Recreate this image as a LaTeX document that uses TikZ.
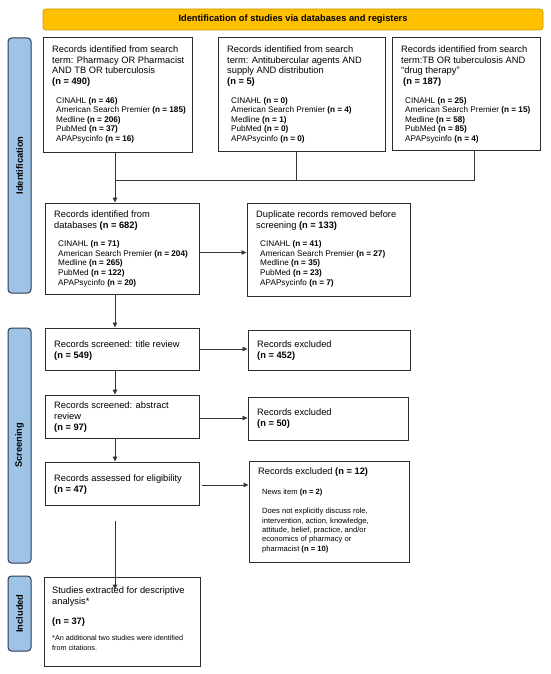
\documentclass[tikz,border=0pt]{standalone}
\usepackage{fontspec}
\setmainfont{Liberation Sans}
\usetikzlibrary{arrows.meta,calc}
\definecolor{bannerfill}{RGB}{255,192,0}
\definecolor{bannerdraw}{RGB}{205,155,0}
\definecolor{sidefill}{RGB}{157,195,230}
\definecolor{sidedraw}{RGB}{45,60,80}
\definecolor{boxdraw}{RGB}{45,45,45}
\definecolor{linecol}{RGB}{55,55,55}
\begin{document}
\begin{tikzpicture}[x=1pt,y=-1pt,
  box/.style={draw=boxdraw, line width=1pt, rectangle, inner sep=0pt},
  side/.style={draw=sidedraw, fill=sidefill, line width=1pt, rounded corners=3.5pt, inner sep=0pt},
  sidetext/.style={rotate=90, font=\fontsize{9.3}{11}\selectfont\bfseries, inner sep=0pt},
  hd/.style={inner sep=0pt, align=left, font=\fontsize{9.3}{10.7}\selectfont},
  ls/.style={inner sep=0pt, align=left, font=\fontsize{8.2}{9.6}\selectfont},
  sm/.style={inner sep=0pt, align=left, font=\fontsize{7.6}{9.4}\selectfont},
  fn/.style={inner sep=0pt, align=left, font=\fontsize{7.2}{10}\selectfont},
  arr/.style={draw=linecol, line width=0.8pt, -{Triangle[length=5pt,width=4.5pt]}},
  con/.style={draw=linecol, line width=0.8pt},
]
\useasboundingbox (0,0) rectangle (550,674);

% banner
\node[draw=bannerdraw, fill=bannerfill, line width=0.8pt, rounded corners=3pt,
      minimum width=500pt, minimum height=21pt, inner sep=0pt,
      font=\fontsize{9.3}{11}\selectfont\bfseries] (ban) at (293,19.5)
      {Identification of studies via databases and registers};

% side labels
\node[side, minimum width=23pt, minimum height=255pt] (sid) at (19.5,165.5) {};
\node[sidetext] at (sid.center) {Identification};
\node[side, minimum width=23pt, minimum height=235pt] (ssc) at (19.5,445.5) {};
\node[sidetext] at (ssc.center) {Screening};
\node[side, minimum width=23pt, minimum height=75pt] (sin) at (19.5,613.5) {};
\node[sidetext] at (sin.center) {Included};

% boxes
\node[box, minimum width=149pt, minimum height=114pt] (b1) at (117.5,95) {};
\node[box, minimum width=167pt, minimum height=113pt] (b2) at (301.5,94.5) {};
\node[box, minimum width=148pt, minimum height=112pt] (b3) at (466,94) {};
\node[box, minimum width=154pt, minimum height=91pt] (b4) at (122,248.5) {};
\node[box, minimum width=163pt, minimum height=93pt] (b5) at (328.5,249.5) {};
\node[box, minimum width=154pt, minimum height=42pt] (b6) at (122,349) {};
\node[box, minimum width=162pt, minimum height=40pt] (b7) at (329,350) {};
\node[box, minimum width=154pt, minimum height=43pt] (b8) at (122,416.5) {};
\node[box, minimum width=160pt, minimum height=43pt] (b9) at (328,418.5) {};
\node[box, minimum width=154pt, minimum height=43pt] (b10) at (122,483.5) {};
\node[box, minimum width=160pt, minimum height=101pt] (b11) at (329,511.5) {};
\node[box, minimum width=156pt, minimum height=89pt] (b12) at (122,621.5) {};

% texts box 1
\node[hd, anchor=north west] (t1) at (52,45.5) {Records identified from search\\term: Pharmacy OR Pharmacist\\AND TB OR tuberculosis\\\textbf{(n = 490)}};
\node[ls, anchor=north west] (l1) at (56,96.9) {CINAHL \textbf{(n = 46)}\\American Search Premier \textbf{(n = 185)}\\Medline \textbf{(n = 206)}\\PubMed \textbf{(n = 37)}\\APAPsycinfo \textbf{(n = 16)}};
% box 2
\node[hd, anchor=north west] (t2) at (227,45.5) {Records identified from search\\term: Antitubercular agents AND\\supply AND distribution\\\textbf{(n = 5)}};
\node[ls, anchor=north west] (l2) at (231,96.9) {CINAHL \textbf{(n = 0)}\\American Search Premier \textbf{(n = 4)}\\Medline \textbf{(n = 1)}\\PubMed \textbf{(n = 0)}\\APAPsycinfo \textbf{(n = 0)}};
% box 3
\node[hd, anchor=north west] (t3) at (401,45.5) {Records identified from search\\term:TB OR tuberculosis AND\\“drug therapy”\\\hspace*{2pt}\textbf{(n = 187)}};
\node[ls, anchor=north west] (l3) at (405,96.9) {CINAHL \textbf{(n = 25)}\\American Search Premier \textbf{(n = 15)}\\Medline \textbf{(n = 58)}\\PubMed \textbf{(n = 85)}\\APAPsycinfo \textbf{(n = 4)}};
% box 4
\node[hd, anchor=north west] (t4) at (54,210.5) {Records identified from\\databases \textbf{(n = 682)}};
\node[ls, anchor=north west] (l4) at (58,240.6) {CINAHL \textbf{(n = 71)}\\American Search Premier \textbf{(n = 204)}\\Medline \textbf{(n = 265)}\\PubMed \textbf{(n = 122)}\\APAPsycinfo \textbf{(n = 20)}};
% box 5
\node[hd, anchor=north west] (t5) at (256,210.5) {Duplicate records removed before\\screening \textbf{(n = 133)}};
\node[ls, anchor=north west] (l5) at (260,240.6) {CINAHL \textbf{(n = 41)}\\American Search Premier \textbf{(n = 27)}\\Medline \textbf{(n = 35)}\\PubMed \textbf{(n = 23)}\\APAPsycinfo \textbf{(n = 7)}};
% boxes 6-10
\node[hd, anchor=west] (t6) at (54,350.5) {Records screened: title review\\\textbf{(n = 549)}};
\node[hd, anchor=west] (t7) at (257,350.5) {Records excluded\\\textbf{(n = 452)}};
\node[hd, anchor=west] (t8) at (54,417) {Records screened: abstract\\review\\\textbf{(n = 97)}};
\node[hd, anchor=west] (t9) at (257,418.5) {Records excluded\\\textbf{(n = 50)}};
\node[hd, anchor=west] (t10) at (54,484.5) {Records assessed for eligibility\\\textbf{(n = 47)}};
% box 11
\node[hd, anchor=north west] (t11) at (258,467.5) {Records excluded \textbf{(n = 12)}};
\node[sm, anchor=north west] (s11a) at (262,489) {News item \textbf{(n = 2)}};
\node[sm, anchor=north west] (s11b) at (262,508) {Does not explicitly discuss role,\\intervention, action, knowledge,\\attitude, belief, practice, and/or\\economics of pharmacy or\\pharmacist \textbf{(n = 10)}};
% box 12
\node[hd, anchor=north west] (t12) at (52,586.5) {Studies extracted for descriptive\\analysis*};
\node[hd, anchor=north west] (n12) at (52,617.5) {\textbf{(n = 37)}};
\node[fn, anchor=north west] (f12) at (52,635.3) {*An additional two studies were identified\\from citations.};

% connectors
\coordinate (ax) at (115,0);
\coordinate (j) at (115,180);
\coordinate (c2) at ($(b2.south)+(-5.5,0)$);
\coordinate (c3) at ($(b3.south)+(8,0)$);
\draw[arr] (ax |- b1.south) -- (ax |- b4.north);
\draw[con] (c2) -- (c2 |- j);
\draw[con] (c3) |- (j);
\coordinate (a45) at ($(b4.east)+(0,4)$);
\draw[arr] (a45) -- (a45 -| b5.west);
\draw[arr] (ax |- b4.south) -- (ax |- b6.north);
\draw[arr] (b6.east) -- (b6.east -| b7.west);
\draw[arr] (ax |- b6.south) -- (ax |- b8.north);
\coordinate (a89) at ($(b8.east)+(0,1.5)$);
\draw[arr] (a89) -- (a89 -| b9.west);
\draw[arr] (ax |- b8.south) -- (ax |- b10.north);
\coordinate (a1011) at ($(b10.east)+(2,1.5)$);
\draw[arr] (a1011) -- (a1011 -| b11.west);
\coordinate (s12) at ($(ax |- b10.south)+(0,15)$);
\coordinate (e12) at ($(ax |- b12.north)+(0,13)$);
\draw[arr] (s12) -- (e12);
\end{tikzpicture}
\end{document}
